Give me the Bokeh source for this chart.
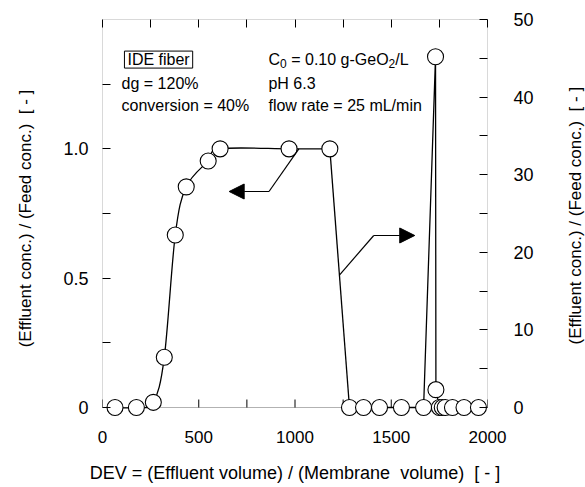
import math
import numpy as np
from bokeh.plotting import figure
from bokeh.layouts import row
from bokeh.models import LinearAxis, Range1d, FixedTicker, Label, Arrow, NormalHead, BoxAnnotation
from bokeh.embed import file_html
from bokeh.resources import INLINE

# ---------------- data ----------------
# adsorption (breakthrough) phase, left axis: C/C0 [-]
dev_ads = [65, 176, 264, 321, 378, 435, 549, 611, 969, 1181]
conc_ads = [0.0, 0.0, 0.02, 0.194, 0.667, 0.853, 0.953, 1.0, 1.0, 1.0]
# washing / elution phase, right axis: C/C0 [-]
dev_elu = [1283, 1356, 1439, 1553, 1668, 1730, 1732, 1750, 1765, 1780, 1818, 1878, 1953]
conc_elu = [0, 0, 0, 0, 0, 45.2, 2.3, 0, 0, 0, 0, 0, 0]

x_major = [0, 500, 1000, 1500, 2000]
x_minor = [250, 750, 1250, 1750]
left_major = [0, 0.5, 1.0]
left_minor = [0.25, 0.75, 1.25]
left_labels = {0: "0", 0.5: "0.5", 1: "1.0"}
right_major = [0, 10, 20, 30, 40, 50]
right_minor = [5, 15, 25, 35, 45]

X_RANGE = (0, 2000)
LEFT_RANGE = (0, 1.5)
RIGHT_RANGE = (0, 50)

FONT = "Liberation Sans"
NB = "\u00a0"
W_MAIN, W_STRIP, H = 560, 25, 487
FRAME_L, FRAME_R, FRAME_T, BASE = 102, 487, 19, 407   # pixel geometry
PAD = 10                                              # room below the zero line
TICK = 8

px_left = (BASE - FRAME_T) / (LEFT_RANGE[1] - LEFT_RANGE[0])
px_right = (BASE - FRAME_T) / (RIGHT_RANGE[1] - RIGHT_RANGE[0])

p = figure(width=W_MAIN, height=H,
           x_range=Range1d(*X_RANGE),
           y_range=Range1d(LEFT_RANGE[0] - PAD / px_left, LEFT_RANGE[1]),
           output_backend="svg", toolbar_location=None,
           min_border_left=FRAME_L, min_border_right=W_MAIN - FRAME_R,
           min_border_top=FRAME_T, min_border_bottom=H - (BASE + PAD),
           x_axis_location=None, y_axis_location=None)
p.xgrid.visible = False
p.ygrid.visible = False
p.outline_line_color = None
p.background_fill_color = "white"
p.border_fill_color = "white"
p.extra_y_ranges = {"right": Range1d(RIGHT_RANGE[0] - PAD / px_right, RIGHT_RANGE[1])}

# frame box (from the zero line up)
p.add_layout(BoxAnnotation(left=X_RANGE[0], right=X_RANGE[1], bottom=LEFT_RANGE[0], top=LEFT_RANGE[1],
                           fill_alpha=0, line_color="black", line_width=1, level="underlay"))


def style_axis(ax, standoff, size="18px"):
    ax.axis_line_color = None
    ax.major_tick_line_color = "black"
    ax.minor_tick_line_color = "black"
    ax.major_tick_in = TICK
    ax.major_tick_out = 0
    ax.minor_tick_in = TICK
    ax.minor_tick_out = 0
    ax.major_label_text_font = FONT
    ax.major_label_text_font_size = size
    ax.major_label_text_color = "black"
    ax.major_label_standoff = standoff
    ax.axis_label_text_font = FONT
    ax.axis_label_text_font_style = "normal"
    ax.axis_label_text_color = "black"


ylab = f"(Effluent conc.) / (Feed conc.) {NB}[ - ]"

xaxis = LinearAxis(ticker=FixedTicker(ticks=x_major),
                   axis_label=f"DEV = (Effluent volume) / (Membrane {NB}volume) {NB}[ - ]")
style_axis(xaxis, 13, "17px")
xaxis.major_tick_line_color = None
xaxis.minor_tick_line_color = None
xaxis.axis_label_text_font_size = "18px"
xaxis.axis_label_standoff = 17
p.add_layout(xaxis, "below")

top_axis = LinearAxis(ticker=FixedTicker(ticks=[], minor_ticks=x_major + x_minor))
style_axis(top_axis, 0)
p.add_layout(top_axis, "above")

laxis = LinearAxis(ticker=FixedTicker(ticks=left_major, minor_ticks=left_minor), axis_label=ylab)
laxis.major_label_overrides = left_labels
style_axis(laxis, 14)
laxis.axis_label_text_font_size = "17px"
laxis.axis_label_standoff = 25
p.add_layout(laxis, "left")

raxis = LinearAxis(y_range_name="right",
                   ticker=FixedTicker(ticks=right_major, minor_ticks=right_minor))
style_axis(raxis, 26)
p.add_layout(raxis, "right")

# inward ticks of the bottom axis, standing on the zero line
xt = sorted(x_major + x_minor)
p.segment(x0=xt, y0=[0] * len(xt), x1=xt, y1=[TICK / px_left] * len(xt),
          line_color="black", line_width=1, level="underlay")

# ---------------- smooth breakthrough curve (Catmull-Rom through the points) ----------------
P = np.column_stack([dev_ads, conc_ads]).astype(float)
n = len(P)
x0, y0, x1, y1, cx0, cy0, cx1, cy1 = [], [], [], [], [], [], [], []
for i in range(n - 1):
    Pm = P[i - 1] if i > 0 else P[i]
    Pa, Pb = P[i], P[i + 1]
    Pp = P[i + 2] if i + 2 < n else P[i + 1]
    c1 = Pa + (Pb - Pm) / 6.0
    c2 = Pb - (Pp - Pa) / 6.0
    x0.append(Pa[0]); y0.append(Pa[1]); x1.append(Pb[0]); y1.append(Pb[1])
    cx0.append(c1[0]); cy0.append(c1[1]); cx1.append(c2[0]); cy1.append(c2[1])
p.bezier(x0=x0, y0=y0, x1=x1, y1=y1, cx0=cx0, cy0=cy0, cx1=cx1, cy1=cy1,
         line_color="black", line_width=1.3)

# connection from the end of the adsorption to the washing phase
scale = (LEFT_RANGE[1] - LEFT_RANGE[0]) / (RIGHT_RANGE[1] - RIGHT_RANGE[0])
p.line([dev_ads[-1], dev_elu[0]], [conc_ads[-1], conc_elu[0] * scale],
       line_color="black", line_width=1.3)
p.line(dev_elu, conc_elu, y_range_name="right", line_color="black", line_width=1.3)

# markers
p.scatter(dev_ads, conc_ads, marker="circle", size=16, fill_color="white",
          line_color="black", line_width=1.1)
p.scatter(dev_elu, conc_elu, marker="circle", size=16, fill_color="white",
          line_color="black", line_width=1.1, y_range_name="right")

# ---------------- arrows ----------------
p.line([1020, 865], [1.0, 0.835], line_color="black", line_width=1.2)
p.add_layout(Arrow(end=NormalHead(size=15, fill_color="black", line_color="black"),
                   x_start=865, y_start=0.835, x_end=658, y_end=0.835,
                   line_color="black", line_width=1.2))
t = (1.0 - 0.512) / 1.0
xs0 = dev_ads[-1] + t * (dev_elu[0] - dev_ads[-1])
p.line([xs0, 1409], [0.512, 0.665], line_color="black", line_width=1.2)
p.add_layout(Arrow(end=NormalHead(size=15, fill_color="black", line_color="black"),
                   x_start=1409, y_start=0.665, x_end=1622, y_end=0.665,
                   line_color="black", line_width=1.2))

# ---------------- annotations ----------------
def note(x, y, text, size="16px", dx=0, dy=0, **kw):
    p.add_layout(Label(x=x, y=y, text=text, text_font=FONT, text_font_size=size,
                       x_offset=dx, y_offset=dy,
                       text_color="black", text_baseline="middle", text_align="left", **kw))

note(114, 1.345, "IDE fiber", border_line_color="black", border_line_width=1, padding=(3, 0))
note(99, 1.253, "dg = 120%")
note(99, 1.167, "conversion = 40%")
# C0 = 0.10 g-GeO2/L with real subscripts
note(862, 1.345, "C")
note(862, 1.345, "0", size="12px", dx=11.6, dy=-4)
note(862, 1.345, "= 0.10 g-GeO", dx=22.8)
note(862, 1.345, "2", size="12px", dx=120.0, dy=-4)
note(862, 1.345, "/L", dx=126.8)
note(862, 1.253, "pH 6.3")
note(862, 1.167, "flow rate = 25 mL/min")

# ---------------- right-hand axis title (reads bottom to top) ----------------
strip = figure(width=W_STRIP, height=H, x_range=(0, 1), y_range=(0, 1),
               output_backend="svg", toolbar_location=None,
               min_border=0, x_axis_location=None, y_axis_location=None)
strip.xgrid.visible = False
strip.ygrid.visible = False
strip.outline_line_color = None
strip.background_fill_color = "white"
strip.border_fill_color = "white"
strip.add_layout(Label(x=0.6, y=(H - 240) / H, text=ylab, angle=math.pi / 2,
                       text_font=FONT, text_font_size="17px", text_color="black",
                       text_align="center", text_baseline="middle"))

layout = row(p, strip, spacing=0)
open("out.html", "w").write(file_html(layout, INLINE))
